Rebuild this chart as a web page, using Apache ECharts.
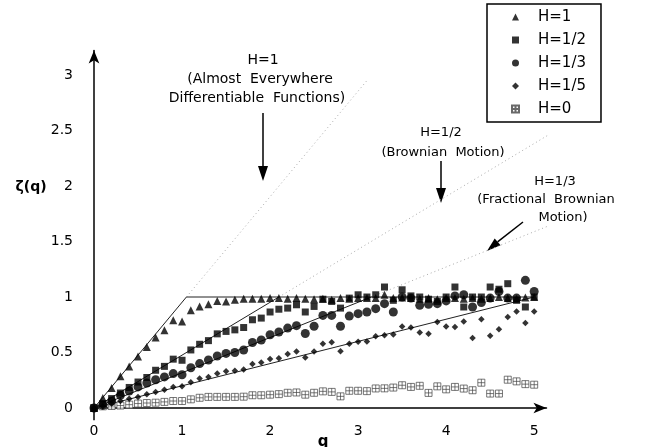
<!DOCTYPE html>
<html><head><meta charset="utf-8">
<script src="https://cdn.jsdelivr.net/npm/echarts@6.0.0/dist/echarts.min.js"></script>
<style>html,body{margin:0;padding:0;background:#fff}#c{width:645px;height:447px}</style>
</head><body><div id="c"></div><script>
// q values (x)
const qValues = [0,0.1,0.2,0.3,0.4,0.5,0.6,0.7,0.8,0.9,1.0,
  1.1,1.2,1.3,1.4,1.5,1.6,1.7,1.8,1.9,2.0,
  2.1,2.2,2.3,2.4,2.5,2.6,2.7,2.8,2.9,3.0,
  3.1,3.2,3.3,3.4,3.5,3.6,3.7,3.8,3.9,4.0,
  4.1,4.2,4.3,4.4,4.5,4.6,4.7,4.8,4.9,5.0];
// zeta(q) estimates for each H
const zetaH1 = [0,0.09,0.18,0.285,0.375,0.465,0.55,0.635,0.70,0.79,0.78,
  0.88,0.915,0.935,0.965,0.96,0.975,0.985,0.985,0.985,0.99,
  0.99,0.985,0.99,0.985,0.98,0.985,0.975,0.99,0.985,0.99,
  0.99,0.99,1.02,0.99,0.995,0.99,0.985,0.99,0.98,0.99,
  0.99,0.985,0.99,0.985,0.99,1.0,0.99,0.985,0.995,1.0];
const zetaH12 = [0,0.04,0.085,0.135,0.185,0.234,0.275,0.34,0.375,0.44,0.43,
  0.523,0.574,0.607,0.668,0.69,0.704,0.725,0.795,0.81,0.865,
  0.89,0.90,0.93,0.865,0.915,0.98,0.96,0.90,0.99,1.02,
  1.0,1.02,1.09,0.97,1.065,1.01,1.0,0.98,0.96,1.0,
  1.09,0.91,1.0,1.0,1.09,1.07,1.12,0.97,0.91,1.0];
const zetaH13 = [0,0.025,0.063,0.114,0.153,0.19,0.225,0.255,0.28,0.31,0.30,
  0.363,0.40,0.432,0.468,0.492,0.50,0.523,0.59,0.613,0.66,
  0.685,0.72,0.742,0.671,0.737,0.834,0.834,0.737,0.828,0.85,
  0.865,0.895,0.94,0.865,1.0,0.99,0.925,0.935,0.94,0.965,
  1.01,1.02,0.91,0.95,0.99,1.05,0.99,0.99,1.15,1.05];
const zetaH15 = [0,0.015,0.04,0.063,0.084,0.10,0.123,0.144,0.165,0.19,0.195,
  0.232,0.266,0.28,0.31,0.332,0.335,0.347,0.396,0.41,0.442,
  0.448,0.486,0.51,0.455,0.51,0.578,0.592,0.512,0.578,0.598,
  0.60,0.646,0.655,0.662,0.735,0.725,0.68,0.67,0.775,0.735,
  0.73,0.78,0.63,0.80,0.65,0.71,0.82,0.87,0.765,0.87];
const zetaH0 = [0,0.015,0.018,0.022,0.03,0.04,0.045,0.048,0.055,0.063,0.063,
  0.078,0.092,0.10,0.10,0.10,0.10,0.102,0.115,0.115,0.12,
  0.125,0.137,0.14,0.12,0.137,0.15,0.145,0.105,0.155,0.155,
  0.152,0.176,0.177,0.184,0.205,0.19,0.2,0.136,0.195,0.168,
  0.19,0.175,0.16,0.228,0.13,0.13,0.255,0.24,0.215,0.21];
// drawn reference lines (as in the figure): rise from the origin, then flat at 1
const theoryH1 = [[0,0],[1.05,1],[5,1]];
const theoryH12 = [[0,0],[2.1,1]];
const theoryH13 = [[0,0],[3.15,1]];
const theoryH15 = [[0,0],[5,1]];
// dotted continuations of the rising lines
const extH1 = [[1.05,1],[3.1,2.95]];
const extH12 = [[2.1,1],[5.35,2.55]];
const extH13 = [[3.15,1],[5.35,1.70]];
// short axis stubs beyond the origin
const stubX = [[-0.16,0],[0,0]];
const stubY = [[0,-0.11],[0,0]];
// tick labels
const tickQ = [0,1,2,3,4,5];
const tickZeta = [0,0.5,1,1.5,2,2.5,3];
const seriesNames = ['H=1','H=1/2','H=1/3','H=1/5','H=0'];

const FONT = 'DejaVu Sans';
const pair = arr => qValues.map((q,i)=>[q, arr[i]]);
const solid = d => ({type:'line', data:d, symbol:'none', silent:true, z:1,
  lineStyle:{color:'#222', width:1}});
const dotted = d => ({type:'line', data:d, symbol:'none', silent:true, z:1, clip:false,
  lineStyle:{color:'#aaa', width:1, type:[1,3]}});
const stub = d => ({type:'line', data:d, symbol:'none', silent:true, z:2, clip:false,
  lineStyle:{color:'#000', width:1.5}});

const chart = echarts.init(document.getElementById('c'));
const txt = (t, x, y, font, align) => ({type:'text', x:x, y:y, silent:true,
  style:{text:t, font:font || ('13px ' + FONT), fill:'#000', align:align||'center', verticalAlign:'middle'}});
const arrowHead = pts => ({type:'polygon', silent:true, shape:{points:pts}, style:{fill:'#000'}});
const seg = (x1,y1,x2,y2) => ({type:'line', silent:true, shape:{x1,y1,x2,y2}, style:{stroke:'#000', lineWidth:1.5}});

chart.setOption({
  animation:false,
  backgroundColor:'#fff',
  grid:{left:94, right:98.5, top:50.6, bottom:39},
  xAxis:{type:'value', min:0, max:5.14,
    axisLine:{show:true, onZero:false, symbol:['none','arrow'], symbolSize:[8,13], lineStyle:{color:'#000', width:1.5}},
    axisTick:{show:false}, splitLine:{show:false},
    axisLabel:{customValues:tickQ, margin:16, color:'#000', fontFamily:FONT, fontSize:14}},
  yAxis:{type:'value', min:0, max:3.22,
    axisLine:{show:true, onZero:false, symbol:['none','arrow'], symbolSize:[8,13], lineStyle:{color:'#000', width:1.5}},
    axisTick:{show:false}, splitLine:{show:false},
    axisLabel:{customValues:tickZeta, margin:21, color:'#000', fontFamily:FONT, fontSize:14}},
  legend:{data:seriesNames, orient:'vertical', left:487, top:4, padding:[4,15,4,24], itemGap:5,
    itemWidth:7, itemHeight:7, borderColor:'#000', borderWidth:1.5, selectedMode:false,
    textStyle:{fontFamily:FONT, fontSize:15, color:'#000', lineHeight:18, padding:[0,0,0,14]}},
  series:[
    stub(stubX), stub(stubY),
    dotted(extH1), dotted(extH12), dotted(extH13),
    solid(theoryH1), solid(theoryH12), solid(theoryH13), solid(theoryH15),
    {name:'H=0', type:'scatter', data:pair(zetaH0), z:3,
      symbol:'path://M0,0L10,0L10,10L0,10Z M5,0L5,10 M0,5L10,5', symbolSize:7,
      itemStyle:{color:'#fff', borderColor:'#444', borderWidth:0.9}},
    {name:'H=1/5', type:'scatter', data:pair(zetaH15), symbol:'diamond', symbolSize:6.5, z:3, itemStyle:{color:'#000'}},
    {name:'H=1/3', type:'scatter', data:pair(zetaH13), symbol:'circle', symbolSize:9, z:3, itemStyle:{color:'#000'}},
    {name:'H=1/2', type:'scatter', data:pair(zetaH12), symbol:'rect', symbolSize:7, z:3, itemStyle:{color:'#000'}},
    {name:'H=1', type:'scatter', data:pair(zetaH1), symbol:'triangle', symbolSize:8, z:3, itemStyle:{color:'#000'}}
  ],
  graphic:[
    txt('ζ(q)', 31, 187, 'bold 14px ' + FONT),
    txt('q', 323, 442, 'bold 15px ' + FONT),
    txt('H=1', 263, 60, '14px ' + FONT), txt('(Almost  Everywhere', 260, 79, '14px ' + FONT),
    txt('Differentiable  Functions)', 257, 98, '14px ' + FONT),
    seg(263,113,263,168), arrowHead([[258,166],[268,166],[263,181]]),
    txt('H=1/2', 441, 133), txt('(Brownian  Motion)', 443, 153),
    seg(441,161,441,190), arrowHead([[436,188],[446,188],[441,203]]),
    txt('H=1/3', 555, 182), txt('(Fractional  Brownian', 546, 200), txt('Motion)', 563, 218),
    seg(523,222,497.6,241.9), arrowHead([[500.6,245.3],[494.7,238.5],[487,251]])
  ]
});
</script></body></html>
